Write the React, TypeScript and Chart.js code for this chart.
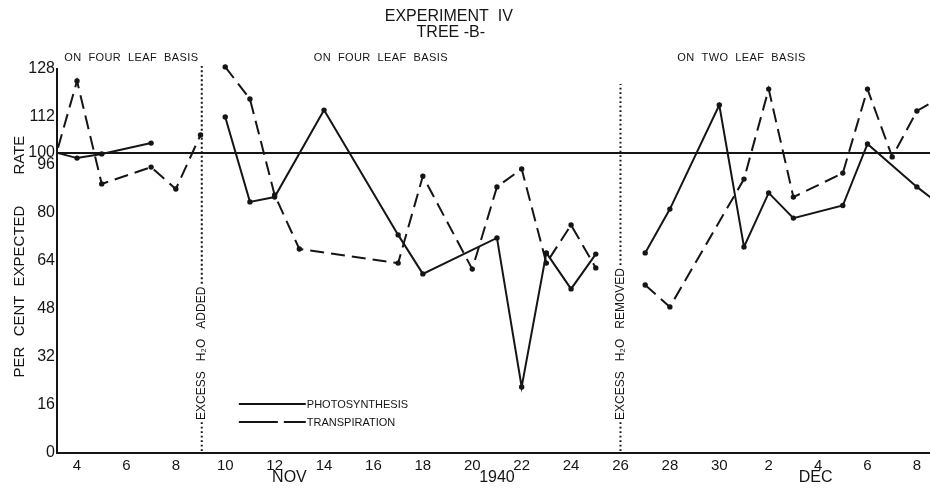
import React, { useEffect, useRef } from "react";
import { Chart, registerables } from "chart.js";

Chart.register(...registerables);

// Day numbers counted from Nov 1 (Dec d = 30 + d). null = break in the record.
const PHOTO_DAYS = [3, 4, 5, 7, 8, 10, 11, 12, 14, 17, 18, 21, 22, 23, 24, 25, 26, 27, 28, 30, 31, 32, 33, 35, 36, 38, 39];
const PHOTO_VALUES = [100.5, 98.3, 99.7, 103.3, null, 112, 83.7, 85.3, 114.3, 72.7, 59.7, 71.7, 22, 66.7, 54.7, 66.3, null, 66.7, 81.3, 116, 68.7, 86.7, 78.3, 82.5, 103, 88.7, 82.4];

const TRANS_DAYS = [3, 4, 5, 7, 8, 9, 9.5, 10, 11, 12, 13, 17, 18, 20, 21, 22, 23, 24, 25, 26, 27, 28, 31, 32, 33, 35, 36, 37, 38, 39];
const TRANS_VALUES = [95, 124, 89.7, 95.3, 88, 106, null, 128.7, 118, 86, 68, 63.3, 92.3, 61.3, 88.7, 94.7, 63.3, 76, 61.7, null, 56, 48.7, 91.3, 121.3, 85.3, 93.3, 121.3, 98.7, 114, 118.8];

const X_TICKS = [4, 6, 8, 10, 12, 14, 16, 18, 20, 22, 24, 26, 28, 30, 32, 34, 36, 38];
const Y_TICKS = [0, 16, 32, 48, 64, 80, 96, 100, 112, 128];
const X_MIN = 3.19;
const X_MAX = 38.53;
const REF_VALUE = 100;

const EVENT_DAYS = [9.05, 26];
const EVENT_TOPS = [129, 123];
const EVENT_LABELS = ["EXCESS   H\u2082O   ADDED", "EXCESS   H\u2082O   REMOVED"];

const SECTION_LABELS = ["ON  FOUR  LEAF  BASIS", "ON  FOUR  LEAF  BASIS", "ON  TWO  LEAF  BASIS"];
const SECTION_DAYS = [6.2, 16.3, 30.9];

const MONTH_LABELS = ["NOV", "1940", "DEC"];
const MONTH_DAYS = [12.6, 21.0, 33.9];

const Y_TITLE_WORDS = ["RATE", "EXPECTED", "CENT", "PER"];
const Y_TITLE_VALUES = [99.3, 69, 45.7, 30.3];

const TITLE_LINES = ["EXPERIMENT  IV", "TREE -B-"];
const LEGEND_LABELS = ["PHOTOSYNTHESIS", "TRANSPIRATION"];

const INK = "#151515";
const FONT = '"Liberation Sans", "DejaVu Sans", Arial, sans-serif';

const decoPlugin = {
  id: "deco",
  beforeDatasetsDraw(chart: any) {
    const { ctx, chartArea, scales } = chart;
    const x = scales.x;
    const y = scales.y;
    ctx.save();
    // reference line
    ctx.strokeStyle = INK;
    ctx.lineWidth = 2;
    const ry = y.getPixelForValue(REF_VALUE);
    ctx.beginPath();
    ctx.moveTo(chartArea.left, ry);
    ctx.lineTo(chartArea.right, ry);
    ctx.stroke();

    // event lines
    EVENT_DAYS.forEach((d, i) => {
      const px = x.getPixelForValue(d);
      const bottom = y.getPixelForValue(0);
      const top = y.getPixelForValue(EVENT_TOPS[i]);
      const start = y.getPixelForValue(11);
      ctx.font = `12px ${FONT}`;
      const w = ctx.measureText(EVENT_LABELS[i]).width;
      ctx.setLineDash([1.8, 2.7]);
      ctx.lineWidth = 2;
      ctx.beginPath();
      ctx.moveTo(px, bottom - 2);
      ctx.lineTo(px, start + 2);
      ctx.moveTo(px, start - w - 3);
      ctx.lineTo(px, top);
      ctx.stroke();
      ctx.setLineDash([]);
      ctx.save();
      ctx.translate(px, start);
      ctx.rotate(-Math.PI / 2);
      ctx.fillStyle = INK;
      ctx.textAlign = "left";
      ctx.textBaseline = "middle";
      ctx.fillText(EVENT_LABELS[i], 0, 0);
      ctx.restore();
    });
    ctx.restore();
  },
  afterDraw(chart: any) {
    const { ctx, scales } = chart;
    const x = scales.x;
    const y = scales.y;
    ctx.save();
    ctx.fillStyle = INK;
    ctx.strokeStyle = INK;

    // title
    ctx.textAlign = "center";
    ctx.textBaseline = "middle";
    ctx.font = `16px ${FONT}`;
    const tx = x.getPixelForValue(19.05);
    ctx.fillText(TITLE_LINES[0], tx, 17);
    ctx.fillText(TITLE_LINES[1], tx + 2, 33);

    // section labels
    ctx.font = `11px ${FONT}`;
    (ctx as any).letterSpacing = "0.4px";
    SECTION_LABELS.forEach((s, i) => {
      ctx.fillText(s, x.getPixelForValue(SECTION_DAYS[i]), 58);
    });
    (ctx as any).letterSpacing = "0px";

    // month labels
    ctx.font = `16px ${FONT}`;
    MONTH_LABELS.forEach((s, i) => {
      ctx.fillText(s, x.getPixelForValue(MONTH_DAYS[i]), 478);
    });

    // y title
    ctx.font = `15px ${FONT}`;
    Y_TITLE_WORDS.forEach((s, i) => {
      ctx.save();
      ctx.translate(20, y.getPixelForValue(Y_TITLE_VALUES[i]));
      ctx.rotate(-Math.PI / 2);
      ctx.fillText(s, 0, 0);
      ctx.restore();
    });

    // legend
    const lx0 = x.getPixelForValue(10.55);
    const lx1 = lx0 + 67;
    const ly0 = y.getPixelForValue(16.3);
    const ly1 = y.getPixelForValue(10.3);
    ctx.lineWidth = 2;
    ctx.beginPath();
    ctx.moveTo(lx0, ly0);
    ctx.lineTo(lx1, ly0);
    ctx.stroke();
    ctx.setLineDash([39, 6]);
    ctx.beginPath();
    ctx.moveTo(lx0, ly1);
    ctx.lineTo(lx1, ly1);
    ctx.stroke();
    ctx.setLineDash([]);
    ctx.font = `11px ${FONT}`;
    ctx.textAlign = "left";
    ctx.fillText(LEGEND_LABELS[0], lx1 + 1, ly0 + 1);
    ctx.fillText(LEGEND_LABELS[1], lx1 + 1, ly1 + 1);
    ctx.restore();
  },
};

export default function App() {
  const ref = useRef<HTMLCanvasElement | null>(null);
  useEffect(() => {
    if (!ref.current) return;
    const clip = { left: 0, top: 8, right: 0, bottom: 0 };
    const common = {
      borderColor: INK,
      borderWidth: 2,
      pointRadius: 2.7,
      pointBackgroundColor: INK,
      pointBorderWidth: 0,
      tension: 0,
      spanGaps: false,
      clip,
    };
    const chart = new Chart(ref.current, {
      type: "line",
      data: {
        datasets: [
          {
            ...common,
            label: LEGEND_LABELS[0],
            data: PHOTO_DAYS.map((d, i) => ({ x: d, y: PHOTO_VALUES[i] })),
          },
          {
            ...common,
            label: LEGEND_LABELS[1],
            borderDash: [14, 7],
            data: TRANS_DAYS.map((d, i) => ({ x: d, y: TRANS_VALUES[i] })),
          },
        ],
      } as any,
      options: {
        animation: false,
        responsive: false,
        layout: { autoPadding: false, padding: { top: 69, left: 0, right: 0, bottom: 0 } },
        plugins: { legend: { display: false }, tooltip: { enabled: false }, title: { display: false } },
        scales: {
          x: {
            type: "linear",
            min: X_MIN,
            max: X_MAX,
            grid: { display: false, drawTicks: false },
            border: { display: true, color: INK, width: 2 },
            afterBuildTicks: (axis: any) => {
              axis.ticks = X_TICKS.map((v) => ({ value: v }));
            },
            afterFit: (axis: any) => {
              axis.height = 37;
              axis.paddingLeft = 0;
              axis.paddingRight = 0;
            },
            ticks: {
              autoSkip: false,
              maxRotation: 0,
              padding: 4,
              color: INK,
              font: { family: FONT, size: 15 },
              callback: (v: any) => String(v > 30 ? v - 30 : v),
            },
          },
          y: {
            type: "linear",
            min: 0,
            max: 128,
            grid: { display: false, drawTicks: false },
            border: { display: true, color: INK, width: 2 },
            afterBuildTicks: (axis: any) => {
              axis.ticks = Y_TICKS.map((v) => ({ value: v }));
            },
            afterFit: (axis: any) => {
              axis.width = 57;
              axis.paddingTop = 0;
              axis.paddingBottom = 0;
            },
            ticks: {
              autoSkip: false,
              padding: 2,
              color: INK,
              font: { family: FONT, size: 16 },
            },
          },
        },
      } as any,
      plugins: [decoPlugin],
    });
    return () => chart.destroy();
  }, []);
  return (
    <div style={{ position: "absolute", left: 0, top: 0, width: 930, height: 490, background: "#fff" }}>
      <canvas ref={ref} width={930} height={490} />
    </div>
  );
}
